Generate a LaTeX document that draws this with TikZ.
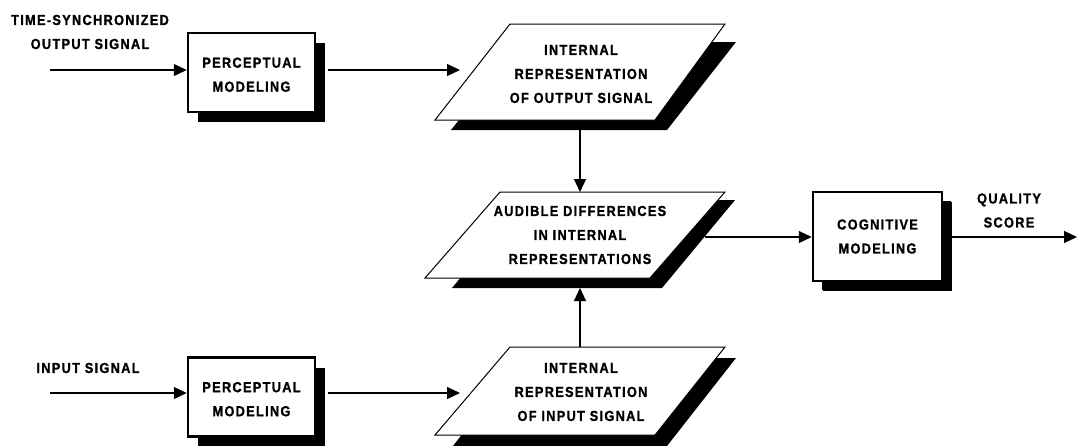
\documentclass[tikz,border=0pt]{standalone}
\usepackage{fontspec}
\setmainfont{Liberation Sans}[FakeStretch=0.88,LetterSpace=9,FakeBold=1.2]
\usetikzlibrary{arrows.meta,shadows}
\newcommand{\topstrut}{\rule{0pt}{14.5pt}}
\begin{document}
\begin{tikzpicture}[x=1pt,y=-1pt,
  lbl/.style={font=\fontsize{14.5}{24}\selectfont\bfseries, align=center, inner sep=0pt},
  box/.style={lbl, draw, line width=2.5pt, fill=white,
    drop shadow={shadow xshift=10pt, shadow yshift=-10pt, fill=black, opacity=1}},
  para/.style={draw, line width=1pt, fill=white},
  shade/.style={fill=black},
  arr/.style={line width=1.2pt, -{Triangle[length=13pt,width=12pt]}}]
\useasboundingbox (0,0) rectangle (1077,445);

% boxes
\node[box, minimum width=127pt, minimum height=79pt] (pm1) at (251.5,72.5) {\topstrut PERCEPTUAL\\MODELING};
\node[box, minimum width=127pt, minimum height=79pt] (pm2) at (251.5,397) {\topstrut PERCEPTUAL\\MODELING};
\node[box, minimum width=129pt, minimum height=89pt,
  drop shadow={shadow xshift=9pt, shadow yshift=-9pt, fill=black, opacity=1}] (cog) at (877.5,236.5) {COGNITIVE\\MODELING};

% parallelograms (shadow, then shape)
\fill[shade] (521,42) -- (736,42) -- (667,130) -- (451,130) -- cycle;
\draw[para] (510,24) -- (725,24) -- (655,120) -- (435,120) -- cycle;
\fill[shade] (525,200) -- (735,200) -- (662,288) -- (452,288) -- cycle;
\draw[para] (500,192) -- (725,192) -- (650,278) -- (425,278) -- cycle;
\fill[shade] (521,358) -- (736,358) -- (667,446) -- (453,446) -- cycle;
\draw[para] (510,347) -- (725,347) -- (655,435) -- (435,435) -- cycle;

\node[lbl] (ro) at (581,74) {INTERNAL\\REPRESENTATION\\OF OUTPUT SIGNAL};
\node[lbl] (ad) at (580,235) {AUDIBLE DIFFERENCES\\IN INTERNAL\\REPRESENTATIONS};
\node[lbl] (ri) at (581,392) {INTERNAL\\REPRESENTATION\\OF INPUT SIGNAL};

% free labels
\node[lbl] (tl) at (90,32) {TIME-SYNCHRONIZED\\OUTPUT SIGNAL};
\node[lbl] (il) at (88,368) {INPUT SIGNAL};
\node[lbl] (ql) at (1009,210.5) {QUALITY\\SCORE};

% ports
\coordinate (in1) at (50,70);
\coordinate (in2) at (50,393);
\coordinate (pm1o) at (328,70);
\coordinate (pm2o) at (328,393);
\coordinate (ro-w) at (460,70);
\coordinate (ri-w) at (460,393);
\coordinate (ro-s) at (580,130);
\coordinate (ad-n) at (580,192);
\coordinate (ri-n) at (580,347);
\coordinate (ad-s) at (580,288);
\coordinate (ad-e) at (705,237);
\coordinate (cog-o) at (951,237);
\coordinate (out) at (1077,237);

% connectors
\draw[arr] (in1) -- (in1 -| pm1.west);
\draw[arr] (in2) -- (in2 -| pm2.west);
\draw[arr] (pm1o) -- (ro-w);
\draw[arr] (pm2o) -- (ri-w);
\draw[arr] (ro-s) -- (ad-n);
\draw[arr] (ri-n) -- (ad-s);
\draw[arr] (ad-e) -- (ad-e -| cog.west);
\draw[arr] (cog-o) -- (out);
\end{tikzpicture}
\end{document}
